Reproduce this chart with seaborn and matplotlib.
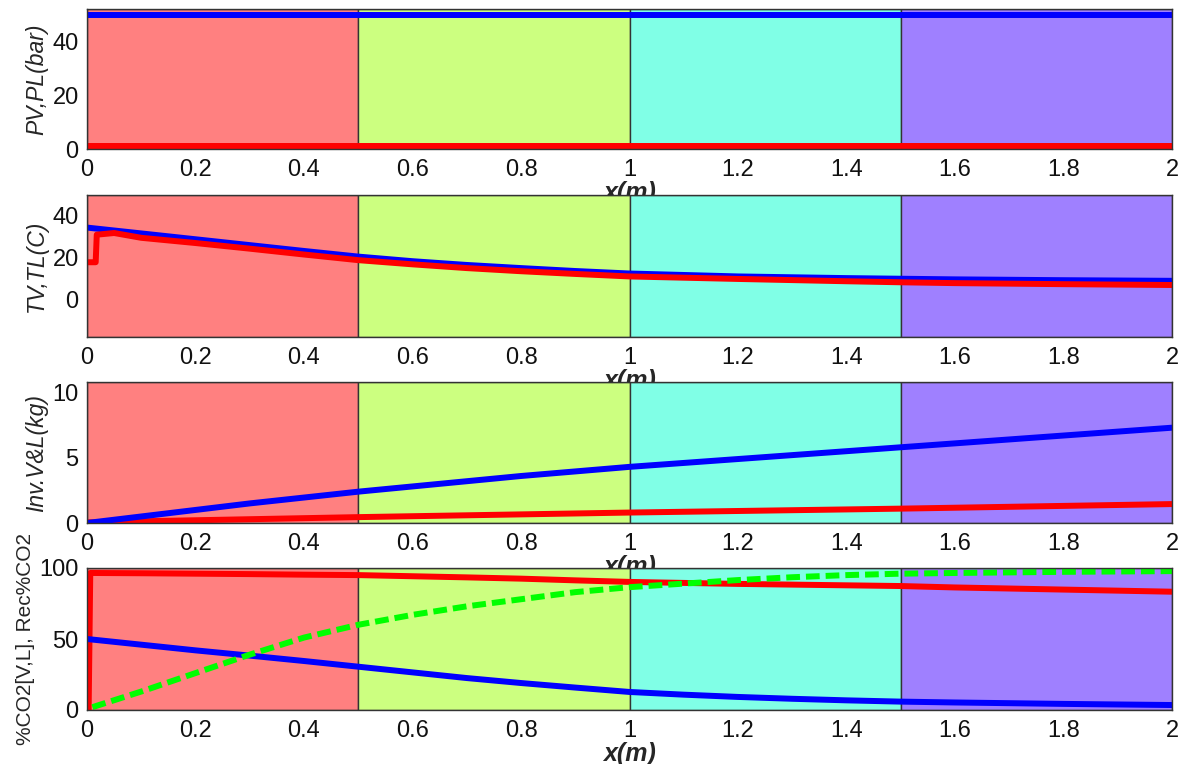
import numpy as np
import pandas as pd
import matplotlib
matplotlib.use("Agg")
import matplotlib.pyplot as plt
import seaborn as sns

# ---------------- data ----------------
zone_edges = [0.0, 0.5, 1.0, 1.5, 2.0]
zone_colors = ["#FF8080", "#CCFF80", "#80FFE6", "#9F80FF"]

x_ticks = [0, 0.2, 0.4, 0.6, 0.8, 1.0, 1.2, 1.4, 1.6, 1.8, 2.0]
x_tick_labels = ["0", "0.2", "0.4", "0.6", "0.8", "1", "1.2", "1.4", "1.6", "1.8", "2"]

# Panel 1: pressures
x_p = [0.0, 0.5, 1.0, 1.5, 2.0]
pv = [49.6, 49.6, 49.6, 49.6, 49.6]
pl = [1.1, 1.1, 1.1, 1.1, 1.1]

# Panel 2: temperatures
x_tv = [0.0, 0.1, 0.2, 0.3, 0.4, 0.5, 0.6, 0.7, 0.8, 0.9, 1.0, 1.2, 1.4, 1.5, 1.6, 1.8, 2.0]
tv = [34.4, 31.6, 28.8, 26.0, 23.2, 20.5, 18.3, 16.5, 15.0, 13.6, 12.4, 11.0, 10.2, 9.9, 9.6, 9.2, 8.9]
x_tl = [0.0, 0.016, 0.018, 0.05, 0.1, 0.2, 0.3, 0.4, 0.5, 0.6, 0.7, 0.8, 0.9, 1.0, 1.2, 1.4, 1.5, 1.6, 1.8, 2.0]
tl = [17.8, 17.8, 31.0, 31.8, 29.5, 27.0, 24.3, 21.5, 18.8, 16.8, 15.0, 13.5, 12.2, 11.0, 9.8, 8.7, 8.2, 7.8, 7.3, 6.9]

# Panel 3: inventories
x_inv = [0.0, 0.1, 0.2, 0.3, 0.4, 0.5, 0.6, 0.7, 0.8, 0.9, 1.0, 1.2, 1.4, 1.5, 1.6, 1.8, 2.0]
inv_v = [0.0, 0.5, 1.0, 1.5, 1.95, 2.4, 2.8, 3.2, 3.6, 3.95, 4.3, 4.9, 5.5, 5.8, 6.1, 6.7, 7.3]
inv_l = [0.05, 0.13, 0.21, 0.29, 0.37, 0.45, 0.52, 0.59, 0.66, 0.73, 0.8, 0.92, 1.04, 1.1, 1.17, 1.31, 1.45]

# Panel 4: %CO2 and recovery
x_co2l = [0.003, 0.006, 0.1, 0.2, 0.3, 0.4, 0.5, 0.6, 0.7, 0.8, 0.9, 1.0, 1.2, 1.4, 1.5, 1.6, 1.8, 2.0]
co2_l = [0.0, 96.5, 96.3, 96.0, 95.7, 95.3, 95.0, 94.2, 93.4, 92.5, 91.3, 90.2, 88.8, 87.8, 87.3, 86.3, 84.8, 83.3]
x_co2v = [0.0, 0.1, 0.2, 0.3, 0.4, 0.5, 0.6, 0.7, 0.8, 0.9, 1.0, 1.1, 1.2, 1.3, 1.4, 1.5, 1.6, 1.8, 2.0]
co2_v = [50.0, 46.0, 42.0, 38.3, 34.5, 30.5, 26.5, 22.5, 19.0, 15.8, 12.7, 10.8, 9.2, 7.9, 6.8, 5.9, 5.3, 4.3, 3.5]
x_rec = [0.01, 0.1, 0.2, 0.3, 0.4, 0.5, 0.6, 0.7, 0.8, 0.9, 1.0, 1.1, 1.2, 1.3, 1.4, 1.5, 1.6, 1.8, 2.0]
rec = [2.0, 13.0, 26.0, 39.0, 51.0, 60.0, 67.0, 73.0, 78.0, 83.0, 86.5, 89.0, 91.5, 93.5, 95.0, 96.0, 96.5, 97.3, 97.8]

ylabels = ["PV,PL(bar)", "TV,TL(C)", "Inv.V&L(kg)", "%CO2[V,L], Rec%CO2"]
ylims = [(0, 52), (-18, 50), (0, 10.8), (0, 100)]
yticks = [[0, 20, 40], [0, 20, 40], [0, 5, 10], [0, 50, 100]]

# ---------------- style ----------------
sns.set_style("white")
plt.rcParams["font.family"] = ["Liberation Sans", "DejaVu Sans"]

fig = plt.figure(figsize=(11.84, 7.64), dpi=100)
H = 764.0
W = 1184.0
rects_px = [(9, 149), (195, 337), (382, 523), (568, 710)]
left_px, right_px = 87, 1172

axes = []
for top, bot in rects_px:
    ax = fig.add_axes([left_px / W, (H - bot) / H, (right_px - left_px) / W, (bot - top) / H])
    axes.append(ax)

LW = 4.3
BLUE = "#0000FF"
RED = "#FF0000"
GREEN = "#00FF00"

def draw_zones(ax):
    for i, c in enumerate(zone_colors):
        ax.axvspan(zone_edges[i], zone_edges[i + 1], facecolor=c, edgecolor="#333333",
                   linewidth=1.0, zorder=0)

def line(ax, x, y, color, **kw):
    df = pd.DataFrame({"x": x, "y": y})
    sns.lineplot(data=df, x="x", y="y", ax=ax, color=color, linewidth=LW,
                 estimator=None, sort=False, legend=False, **kw)

for i, ax in enumerate(axes):
    draw_zones(ax)

line(axes[0], x_p, pv, BLUE)
line(axes[0], x_p, pl, RED)

line(axes[1], x_tv, tv, BLUE)
line(axes[1], x_tl, tl, RED)

line(axes[2], x_inv, inv_l, RED)
line(axes[2], x_inv, inv_v, BLUE)

line(axes[3], x_co2l, co2_l, RED)
line(axes[3], x_co2v, co2_v, BLUE)
df_rec = pd.DataFrame({"x": x_rec, "y": rec})
sns.lineplot(data=df_rec, x="x", y="y", ax=axes[3], color=GREEN, linewidth=LW,
             estimator=None, sort=False, legend=False, dashes=False)
axes[3].lines[-1].set_dashes([2.3, 1.0])

for i, ax in enumerate(axes):
    ax.set_xlim(0, 2)
    ax.set_ylim(*ylims[i])
    ax.set_xticks(x_ticks)
    ax.set_xticklabels(x_tick_labels)
    ax.set_yticks(yticks[i])
    ax.set_yticklabels([str(v) for v in yticks[i]])
    ax.tick_params(axis="both", labelsize=17, length=0, labelcolor="#111111")
    ax.tick_params(axis="x", pad=7)
    ax.tick_params(axis="y", pad=6)
    ax.set_xlabel("x(m)", fontsize=18, fontweight="bold", fontstyle="italic", labelpad=0)
    if i < 3:
        ax.set_ylabel(ylabels[i], fontsize=16.5, fontstyle="italic", labelpad=3)
    else:
        ax.set_ylabel(ylabels[i], fontsize=15, labelpad=3)
    for sp in ax.spines.values():
        sp.set_color("#333333")
        sp.set_linewidth(1.0)
    ax.set_facecolor("white")

fig.savefig("out.png", dpi=100, facecolor="white")
